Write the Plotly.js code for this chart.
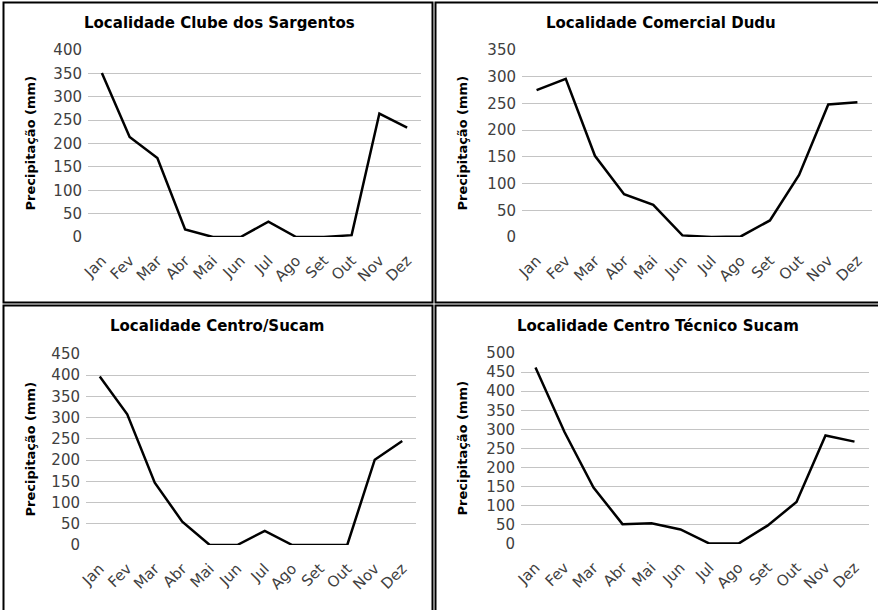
<!DOCTYPE html>
<html>
<head>
<meta charset="utf-8">
<script src="https://cdn.plot.ly/plotly-3.0.1.min.js"></script>
<style>html,body{margin:0;padding:0;background:#fff;}#chart{width:878px;height:610px;}</style>
</head>
<body>
<div id="chart"></div>
<script>
const months = ["Jan","Fev","Mar","Abr","Mai","Jun","Jul","Ago","Set","Out","Nov","Dez"];
const titles = ["Localidade Clube dos Sargentos","Localidade Comercial Dudu","Localidade Centro/Sucam","Localidade Centro Técnico Sucam"];
const yTitle = "Precipitação (mm)";
const clubeSargentos = [351,214,169,16,0,0,33,0,0,4,264,234];
const comercialDudu = [275,296,152,80,60,3,0,1,31,116,248,252];
const centroSucam = [397,308,147,55,0,0,33,0,0,0,201,245];
const centroTecnico = [462,293,148,52,54,38,1,1,48,110,284,268];
const yMax = [400,350,450,500];

const W = 878, H = 610;
const series = [clubeSargentos, comercialDudu, centroSucam, centroTecnico];
// plot areas in pixels: [left, right, top, bottom]
const areas = [[88,421,50,237],[522,872,50,237],[86,416,354,545],[521,869,353,544]];
const titleY = [23,23,326,326];
const titleX = [219,661,217,658];
const yTitleX = [30,462,30,462];

const fx = p => p / W, fy = p => 1 - p / H;
const data = [], layout = {
  width: W, height: H, margin:{l:0,r:0,t:0,b:0},
  paper_bgcolor:'#fff', plot_bgcolor:'#fff', showlegend:false,
  font:{family:'DejaVu Sans, Verdana, sans-serif', color:'#404040'},
  annotations:[], shapes:[]
};
series.forEach((s,i)=>{
  const n = i===0 ? '' : String(i+1);
  data.push({x:months, y:s, type:'scatter', mode:'lines', line:{color:'#000', width:2.5},
    xaxis:'x'+n, yaxis:'y'+n, hoverinfo:'x+y'});
  const a = areas[i];
  layout['xaxis'+n] = {domain:[fx(a[0]),fx(a[1])], anchor:'y'+n, type:'category', range:[-0.5,11.5],
    tickangle:-45, showgrid:false, zeroline:false, showline:false, ticks:'', ticklabelstandoff:11,
    tickfont:{size:15, color:'#404040'}, fixedrange:true};
  layout['yaxis'+n] = {domain:[fy(a[3]),fy(a[2])], anchor:'x'+n, range:[0,yMax[i]], dtick:50,
    showgrid:true, gridcolor:'#c4c4c4', gridwidth:1, zeroline:false, showline:false, ticks:'',
    ticklabelstandoff:5, tickfont:{size:15, color:'#404040'}, fixedrange:true};
  layout.annotations.push({xref:'paper', yref:'paper', x:fx(titleX[i]), y:fy(titleY[i]), text:'<b>'+titles[i]+'</b>',
    showarrow:false, xanchor:'center', yanchor:'middle', font:{size:15, color:'#000'}});
  layout.annotations.push({xref:'paper', yref:'paper', x:fx(yTitleX[i]), y:fy((a[2]+a[3])/2), text:'<b>'+yTitle+'</b>',
    textangle:-90, showarrow:false, xanchor:'center', yanchor:'middle', font:{size:13, color:'#000'}});
});
const rects = [[3.5,432.5,2.5,302.5],[435.5,880,2.5,302.5],[3.5,432.5,305.5,612],[435.5,880,305.5,612]];
rects.forEach(r=>layout.shapes.push({type:'rect', xref:'paper', yref:'paper', x0:fx(r[0]), x1:fx(r[1]), y0:fy(r[2]), y1:fy(r[3]),
  line:{color:'#000', width:2}, layer:'above'}));
Plotly.newPlot('chart', data, layout, {displayModeBar:false, staticPlot:true});
</script>
</body>
</html>
